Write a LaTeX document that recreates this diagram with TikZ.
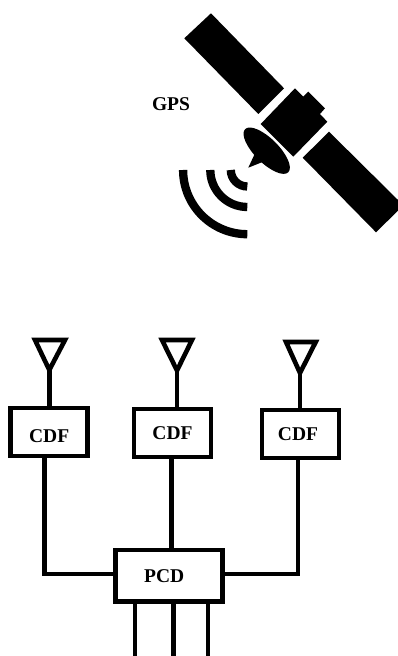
\documentclass[tikz,border=0pt]{standalone}
\usepackage{fontspec}
\setmainfont{Liberation Serif}
\tikzset{
	wire/.style={line width=4.6pt, line join=miter},
	blockbox/.style={draw, line width=4.6pt, fill=white, inner sep=0pt, minimum width=77pt, minimum height=48pt, font=\fontsize{19.5}{22}\selectfont\bfseries},
	wave/.style={line width=8.3pt}
}
\begin{document}
\begin{tikzpicture}[x=1pt, y=1pt]
	\useasboundingbox (0,0) rectangle (398,656);

	\fill (211,642.7) -- (184.3,617.7) -- (258.3,542) -- (284,567.7) -- cycle;
	\fill (329,524.3) -- (398,456) -- (398,445.3) -- (376,423.7) -- (302.7,498.3) -- cycle;
	\fill (295,567.7) -- (260.7,532) -- (293.3,499.3) -- (327.3,534.3) -- (320,542) -- (325,547.7) -- (308.3,564.3) -- (303.3,559.3) -- cycle;
	\fill[white, rotate around={-45:(266.7,505.3)}] (266.7,505.3) ellipse (32 and 13.5);
	\fill[rotate around={-45:(266.7,505.3)}] (266.7,505.3) ellipse (30.5 and 12);
	\fill (255,502.7) -- (248.3,488.3) -- (263.3,494.3) -- cycle;
	\draw[wave] (183.1,486) arc (180:270:64.2);
	\draw[wave] (210.3,486) arc (180:270:37);
	\draw[wave] (230.8,486) arc (180:270:16.5);
	\node[font=\fontsize{19.5}{22}\selectfont\bfseries] (gps) at (171,552) {GPS};

	\node[blockbox] (cdf1) at (49.2,224) {\raisebox{-4pt}{CDF}\rule{0pt}{17pt}};
	\node[blockbox] (cdf2) at (172.5,223) {CDF};
	\node[blockbox] (cdf3) at (300.5,222) {\kern-5pt CDF};
	\node[blockbox, minimum width=107pt, minimum height=51.6pt] (pcd) at (168.7,80) {PCD\kern9pt};

	\coordinate (ant1) at (49.3,286);
	\coordinate (ant2) at (177,285.5);
	\coordinate (ant3) at (300,283);
	\draw[wire] (35,316) -- (65,316) -- (ant1) -- cycle;
	\draw[wire] (162,316) -- (192,316) -- (ant2) -- cycle;
	\draw[wire] (286,314) -- (315.7,314) -- (ant3) -- cycle;
	\draw[wire] (ant1) -- (ant1 |- cdf1.north);
	\draw[wire] (ant2) -- (ant2 |- cdf2.north);
	\draw[wire] (ant3) -- (ant3 |- cdf3.north);

	\coordinate (bendl) at (44.7,82);
	\coordinate (bendm) at (171.7,105.8);
	\coordinate (bendr) at (298,82);
	\draw[wire] (bendl |- cdf1.south) -- (bendl) -- (bendl -| pcd.west);
	\draw[wire] (bendm |- cdf2.south) -- (bendm |- pcd.north);
	\draw[wire] (bendr |- cdf3.south) -- (bendr) -- (bendr -| pcd.east);

	\coordinate (outa) at (135,0);
	\coordinate (outb) at (173.7,0);
	\coordinate (outc) at (208,0);
	\draw[wire] (outa |- pcd.south) -- (outa);
	\draw[wire] (outb |- pcd.south) -- (outb);
	\draw[wire] (outc |- pcd.south) -- (outc);

\end{tikzpicture}
\end{document}
